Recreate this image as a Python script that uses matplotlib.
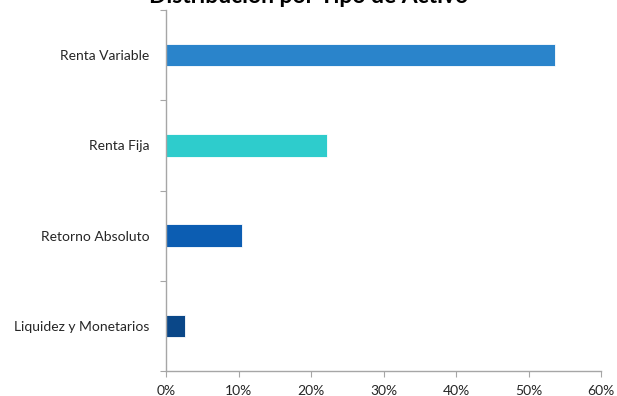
import matplotlib
matplotlib.use("Agg")
import matplotlib.pyplot as plt
from matplotlib.ticker import FuncFormatter, MultipleLocator, FixedLocator

plt.rcParams['font.family'] = ['Lato', 'DejaVu Sans']

categories = ["Renta Variable", "Renta Fija", "Retorno Absoluto", "Liquidez y Monetarios"]
values = [53.7, 22.2, 10.5, 2.6]
colors = ["#2A84CB", "#2ECCCC", "#0C5DB2", "#0A4788"]
title = "Distribución por Tipo de Activo"

fig = plt.figure(figsize=(6.17, 3.96), dpi=100)
ax = fig.add_axes([166 / 617, 25 / 396, 435 / 617, 361 / 396])

pos = list(range(len(categories)))
ax.barh(pos, values, height=0.25, color=colors, edgecolor="#FFFFFF", linewidth=0.6)

ax.set_ylim(len(categories) - 0.5, -0.5)
ax.set_xlim(0, 60)

ax.set_yticks(pos)
ax.set_yticklabels(categories, fontsize=10, color="#262626")
ax.yaxis.set_minor_locator(FixedLocator([p - 0.5 for p in range(len(categories) + 1)]))
ax.tick_params(axis="y", which="major", length=0, pad=12)
ax.tick_params(axis="y", which="minor", length=4, width=0.8, color="#A6A6A6", direction="out")

ax.xaxis.set_major_locator(MultipleLocator(10))
ax.xaxis.set_major_formatter(FuncFormatter(lambda v, _: f"{v:.0f}%"))
ax.tick_params(axis="x", length=4, width=0.8, color="#A6A6A6", direction="out",
               labelsize=10, labelcolor="#262626", pad=6)

for side in ("top", "right"):
    ax.spines[side].set_visible(False)
for side in ("left", "bottom"):
    ax.spines[side].set_color("#A6A6A6")
    ax.spines[side].set_linewidth(1.0)

fig.text(0.5, 1 - 3 / 396, title, ha="center", va="baseline",
         fontsize=16.5, fontweight="bold", color="#000000")

fig.savefig("out.png", dpi=100, facecolor="white")
